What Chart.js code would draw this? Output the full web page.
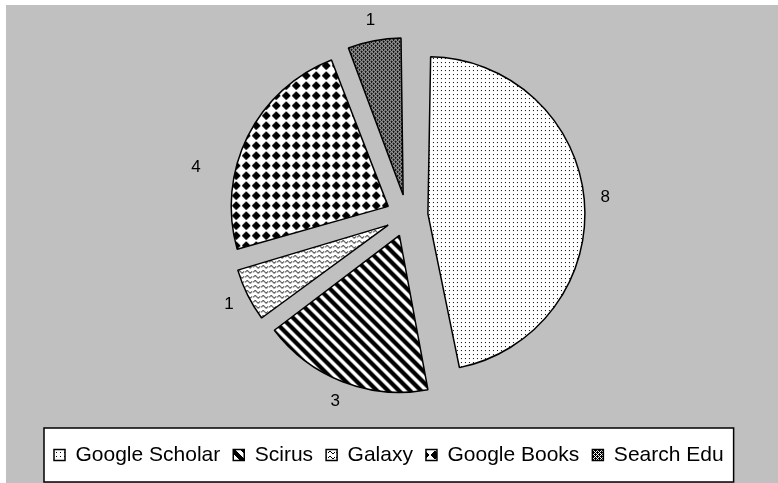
<!DOCTYPE html>
<html>
<head>
<meta charset="utf-8">
<title>Search engines pie</title>
<script src="https://cdn.jsdelivr.net/npm/chart.js@4.4.1/dist/chart.umd.min.js"></script>
<style>
  html, body { margin: 0; padding: 0; background: #ffffff; }
  canvas { display: block; }
</style>
</head>
<body>
<canvas id="pieChart" width="778" height="483"></canvas>
<script>
// ---- data ----
const categories = ["Google Scholar", "Scirus", "Galaxy", "Google Books", "Search Edu"];
const counts = [8, 3, 1, 4, 1];

// ---- look ----
const FONT = "'Liberation Sans', Arial, sans-serif";
const EXPLODE = 84;          // chart.js moves a slice by offset / 4
const PIE_RADIUS = 157;
const LABEL_GAP = 21;
const labelNudge = [[0, 0], [0, 0], [0, 0], [-33, 40], [0, 0]];

/* build a small bitmap tile and turn it into a canvas pattern */
function makePattern(w, h, isBlack) {
  const tile = document.createElement("canvas");
  tile.width = w;
  tile.height = h;
  const t = tile.getContext("2d");
  t.fillStyle = "#ffffff";
  t.fillRect(0, 0, w, h);
  t.fillStyle = "#000000";
  for (let y = 0; y < h; y++) {
    for (let x = 0; x < w; x++) {
      if (isBlack(x, y)) t.fillRect(x, y, 1, 1);
    }
  }
  return document.getElementById("pieChart").getContext("2d").createPattern(tile, "repeat");
}

const wave = [[0, 2], [1, 1], [2, 1], [3, 2], [4, 3], [5, 3], [6, 2]];

const patterns = [
  // sparse dots
  makePattern(4, 4, (x, y) => x === 0 && y === 0),
  // wide downward diagonal
  makePattern(11, 11, (x, y) => ((x - y) % 11 + 11) % 11 < 6),
  // wave
  makePattern(8, 5, (x, y) => wave.some(p => p[0] === x && p[1] === y)),
  // solid diamonds
  makePattern(10, 10, (x, y) => {
    const dx = Math.abs(x - 4.5), dy = Math.abs(y - 4.5);
    return dx + dy <= 4.5 && Math.max(dx, dy) <= 3.5;
  }),
  // dark checker grid
  makePattern(4, 4, (x, y) => (x + y) % 2 === 0 || (x === 1 && y === 0) || (x === 3 && y === 2))
];

/* gray plot background + white legend frame */
const backdrop = {
  id: "backdrop",
  beforeDraw(chart) {
    const ctx = chart.ctx;
    ctx.save();
    ctx.fillStyle = "#ffffff";
    ctx.fillRect(0, 0, chart.width, chart.height);
    ctx.fillStyle = "#c0c0c0";
    ctx.fillRect(6, 5, chart.width - 6, chart.height - 5);

    const hits = chart.legend.legendHitBoxes;
    if (hits && hits.length) {
      const first = hits[0];
      const last = hits[hits.length - 1];
      const left = first.left - 10;
      const right = last.left + last.width + 10;
      const midY = first.top + first.height / 2;
      ctx.fillStyle = "#ffffff";
      ctx.fillRect(left, midY - 27, right - left, 54);
      ctx.strokeStyle = "#000000";
      ctx.lineWidth = 1.5;
      ctx.strokeRect(left, midY - 27, right - left, 54);
    }
    ctx.restore();
  }
};

/* chart.js grows small exploded slices; pull them back to one radius */
const evenRadius = {
  id: "evenRadius",
  afterDatasetUpdate(chart, args) {
    const meta = args.meta;
    const base = meta.controller.outerRadius;
    meta.data.forEach(arc => {
      const shift = (arc.options.offset || 0) / 4;
      const fix = 1 - Math.sin(Math.min(Math.PI, arc.circumference));
      arc.outerRadius = base - shift * fix;
    });
  }
};

/* value labels outside each slice */
const valueLabels = {
  id: "valueLabels",
  afterDatasetsDraw(chart) {
    const ctx = chart.ctx;
    const meta = chart.getDatasetMeta(0);
    ctx.save();
    ctx.font = "17px " + FONT;
    ctx.fillStyle = "#000000";
    ctx.textAlign = "center";
    ctx.textBaseline = "middle";
    meta.data.forEach((arc, i) => {
      const mid = (arc.startAngle + arc.endAngle) / 2;
      const shift = (arc.options.offset || 0) / 4;
      const dist = shift + meta.controller.outerRadius + LABEL_GAP;
      const x = arc.x + Math.cos(mid) * dist + labelNudge[i][0];
      const y = arc.y + Math.sin(mid) * dist + labelNudge[i][1];
      ctx.fillText(String(counts[i]), x, y);
    });
    ctx.restore();
  }
};

document.addEventListener("DOMContentLoaded", () => {
  Chart.defaults.color = "#000000";
  Chart.defaults.font.family = FONT;

  new Chart(document.getElementById("pieChart"), {
    type: "pie",
    data: {
      labels: categories,
      datasets: [
        {
          data: counts,
          backgroundColor: patterns,
          borderColor: "#000000",
          borderWidth: 1.5,
          offset: EXPLODE,
          hoverOffset: 0
        }
      ]
    },
    options: {
      responsive: false,
      animation: false,
      events: [],
      radius: PIE_RADIUS,
      layout: { padding: { left: 41, right: 5, top: 0, bottom: 7.5 } },
      plugins: {
        legend: {
          position: "bottom",
          align: "start",
          labels: {
            boxWidth: 11,
            boxHeight: 11,
            padding: 13,
            color: "#000000",
            font: { family: FONT, size: 21 }
          }
        },
        tooltip: { enabled: false }
      }
    },
    plugins: [backdrop, evenRadius, valueLabels]
  });
});
</script>
</body>
</html>
